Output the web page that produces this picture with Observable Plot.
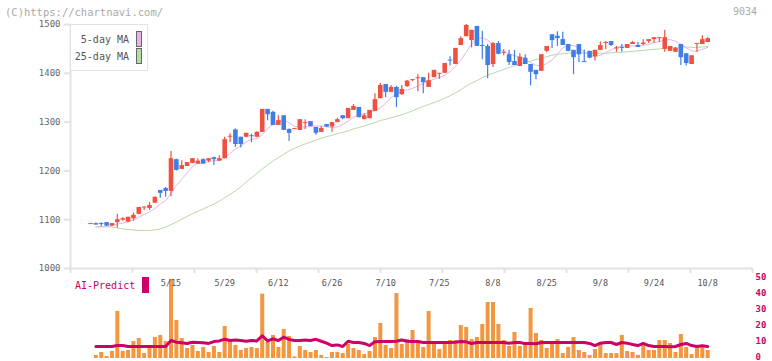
<!DOCTYPE html>
<html><head><meta charset="utf-8">
<script src="https://cdn.jsdelivr.net/npm/d3@7"></script>
<script src="https://cdn.jsdelivr.net/npm/@observablehq/plot@0.6"></script>
<style>
body{margin:0;background:#fff;}
#wrap{position:relative;width:772px;height:361px;font-family:"DejaVu Sans Mono",monospace;overflow:hidden;}
#wrap svg{position:absolute;left:0;top:0;}
.t{position:absolute;white-space:nowrap;line-height:1;}
</style></head><body><div id="wrap"></div>
<script>
// ---- data ----
const open = [
1090,1092,1092,1094,1087,1094,1099,1095,1102,1111,
1124,1123,1134,1160,1164,1158,1223,1203,1209,1215,
1214,1223,1220,1227,1220,1225,1269,1284,1269,1269,
1272,1269,1279,1326,1320,1293,1313,1285,1285,1283,
1297,1301,1289,1279,1295,1290,1299,1313,1307,1324,
1330,1305,1307,1322,1348,1377,1361,1371,1356,1373,
1385,1389,1391,1371,1391,1398,1400,1427,1418,1457,
1475,1467,1496,1457,1455,1418,1461,1441,1438,1424,
1414,1431,1418,1406,1404,1445,1479,1476,1469,1459,
1447,1459,1424,1445,1434,1447,1461,1465,1450,1453,
1451,1459,1457,1459,1465,1469,1471,1449,1445,1443,
1459,1440,1418,1459,1459,1463];
const high = [
1092,1093,1094,1094,1092,1111,1104,1105,1114,1125,
1126,1135,1146,1160,1166,1240,1224,1221,1217,1225,
1225,1225,1225,1228,1231,1269,1276,1286,1269,1277,
1275,1280,1326,1326,1322,1313,1313,1286,1287,1305,
1305,1301,1289,1291,1295,1299,1308,1313,1328,1336,
1330,1317,1324,1358,1379,1377,1375,1373,1375,1385,
1387,1397,1391,1400,1406,1400,1420,1434,1451,1475,
1500,1488,1496,1486,1459,1463,1465,1449,1447,1447,
1440,1438,1418,1406,1438,1455,1479,1485,1484,1459,
1447,1459,1448,1445,1447,1464,1465,1465,1455,1459,
1459,1465,1463,1469,1469,1473,1473,1488,1455,1453,
1459,1440,1436,1461,1477,1473];
const low = [
1090,1089,1086,1086,1086,1083,1097,1094,1097,1110,
1119,1119,1133,1144,1146,1147,1200,1203,1209,1215,
1214,1214,1217,1211,1220,1225,1258,1248,1247,1268,
1258,1268,1279,1303,1293,1293,1283,1260,1285,1283,
1285,1290,1273,1279,1289,1279,1299,1305,1307,1324,
1309,1305,1307,1322,1348,1350,1361,1330,1355,1371,
1383,1362,1358,1371,1391,1388,1400,1415,1418,1457,
1475,1452,1455,1428,1389,1412,1438,1436,1416,1416,
1414,1418,1374,1387,1404,1442,1451,1455,1457,1444,
1397,1422,1422,1430,1425,1447,1449,1455,1443,1443,
1451,1459,1453,1457,1461,1461,1463,1443,1445,1443,
1416,1415,1418,1443,1459,1463];
const close = [
1092,1089,1090,1087,1092,1100,1102,1105,1109,1125,
1126,1129,1146,1154,1158,1225,1201,1211,1217,1225,
1220,1214,1225,1223,1225,1264,1271,1254,1254,1277,
1270,1279,1326,1315,1293,1303,1283,1277,1287,1305,
1299,1291,1277,1287,1290,1299,1305,1307,1328,1332,
1309,1313,1324,1346,1375,1361,1371,1350,1367,1384,
1387,1391,1381,1385,1406,1400,1420,1425,1451,1471,
1498,1488,1455,1455,1416,1461,1439,1443,1422,1416,
1433,1418,1402,1397,1438,1455,1467,1471,1457,1445,
1432,1438,1422,1431,1447,1457,1463,1457,1452,1451,
1459,1463,1453,1462,1469,1473,1473,1473,1455,1451,
1432,1420,1436,1461,1469,1471];
// moving averages, days 1..115
const ma5 = [
1085,1085,1086,1088,1091,1093,1096,1099,1105,1111,
1116,1123,1132,1139,1153,1170,1183,1196,1209,1215,
1216,1219,1221,1221,1226,1236,1245,1251,1259,1265,
1266,1274,1287,1295,1300,1304,1299,1291,1290,1290,
1291,1292,1292,1290,1289,1290,1295,1302,1310,1315,
1317,1320,1323,1329,1339,1350,1358,1363,1366,1369,
1374,1379,1384,1388,1391,1396,1403,1414,1427,1443,
1460,1470,1473,1468,1459,1450,1444,1440,1436,1433,
1429,1422,1416,1415,1420,1427,1439,1452,1458,1457,
1452,1444,1436,1434,1437,1442,1448,1453,1456,1456,
1456,1456,1457,1459,1463,1465,1468,1469,1466,1460,
1452,1446,1445,1449,1453];
const ma25 = [
1086,1086,1086,1085,1083,1081,1080,1079,1078,1078,
1078,1079,1081,1085,1090,1095,1101,1107,1112,1117,
1122,1127,1132,1138,1145,1152,1159,1167,1177,1186,
1195,1204,1212,1220,1227,1234,1241,1246,1251,1255,
1259,1263,1267,1270,1273,1276,1279,1282,1286,1289,
1292,1296,1299,1303,1306,1309,1312,1315,1319,1323,
1328,1332,1336,1340,1344,1349,1354,1360,1366,1374,
1380,1385,1391,1396,1400,1404,1408,1412,1416,1419,
1422,1425,1428,1431,1434,1437,1439,1440,1441,1442,
1442,1442,1441,1441,1441,1441,1442,1443,1443,1444,
1445,1446,1447,1448,1449,1450,1451,1452,1453,1454,
1454,1453,1453,1454,1455];
// lower panel, days 1..115
const volume = [
1.9,3.75,1.25,4.4,29.4,4.4,5,10.6,12.5,3.1,
6.9,13.1,14.4,10.6,49.4,23.75,12.5,6.25,8.1,4.4,
6.9,3.75,7.5,3.75,20,10.6,8.1,5,6.25,6.9,
6.25,40.2,10,14.4,6.9,18.1,13.75,1,7.5,5,
3.75,5,1.9,0.6,3.75,3.75,3.1,8.75,6.25,5,
2.5,4.4,13.1,21.9,8.1,6.25,40.6,8.75,11.9,17.5,
11.25,6.9,29.4,10,5.6,10.6,11.25,11.25,20.6,19.4,
11.9,13.1,21.25,35,35,21.25,11.25,7.5,16.25,7.5,
10,31.25,15.6,11.25,6.25,9.4,11.9,3.1,6.9,13.1,
5,3.75,1.9,5.6,10,3.1,3.1,3.1,14.4,4.4,
3.75,1.9,8.75,5,5,11.25,11.25,9.4,3.75,15,
6.9,2.5,6.9,7.5,5];
const aiPredict = [
7.5,7.5,7.5,7.5,8.1,8.1,7.5,7.5,7.5,7.5,
7.5,7.5,7.5,7.5,11.25,10.2,9.8,9.4,10.2,10,
9.8,9.4,10.6,11,12,11.25,11.6,11.25,10.8,11.25,
11,14.2,11,12.3,11.25,13.3,11.9,11.25,11.25,11.6,
11.25,12,10.8,9.6,8.1,8.5,7.5,10.8,10,10,
9.4,8.1,10.4,10.6,10.6,10.6,10.8,11.6,10.8,10.6,
10.6,10,10,10,10,10,10,10.2,10.6,10.4,
9.4,10,10,10,10,10,10,9.6,10,10,
9.3,9.3,9.2,10,10,10,10,10,10,10,
10,10,9.4,8.1,9.6,10,10,8.75,10,9.6,
8.75,8.1,9.4,8.1,7.5,7.5,7.5,7.3,7.5,8.75,
9.4,8.1,7.5,7.9,7.5];
const dateLabels = ["5/15","5/29","6/12","6/26","7/10","7/25","8/8","8/25","9/8","9/24","10/8"];
const dateLabelDays = [15,25,35,45,55,65,75,85,95,105,115];
const priceTicks = [1000,1100,1200,1300,1400,1500];
const volumeTicks = [0,10,20,30,40,50];

// ---- build ----
const RED = "#ef5140", BLUE = "#3f7ee8", PINK = "#e6b4ea", GREEN = "#b6dba6", MAG = "#cc0066", ORANGE = "#f2963f";
const xDomain = [-3.727, 123.35];
const xGrid = d3.range(12).map(k => xDomain[0] + k * (xDomain[1] - xDomain[0]) / 11);
const days = close.map((c, i) => ({i, o: open[i], h: high[i], l: low[i], c}));
const ups = days.filter(d => d.c >= d.o), downs = days.filter(d => d.c < d.o);
const wrap = document.getElementById("wrap");

const pricePlot = Plot.plot({
  width: 772, height: 361,
  marginLeft: 70, marginRight: 20, marginTop: 24, marginBottom: 93,
  x: {domain: xDomain},
  y: {domain: [1000, 1500]},
  style: {background: "transparent", fontFamily: "DejaVu Sans Mono, monospace", color: "#666"},
  marks: [
    Plot.ruleY([1000], {stroke: "#e2e2e2", strokeWidth: 2}),
    Plot.ruleX([xDomain[0]], {y1: 1000, y2: 1500, stroke: "#e2e2e2", strokeWidth: 2}),
    Plot.axisY({ticks: priceTicks, tickFormat: d => String(d), tickSize: 6, tickPadding: 4, stroke: "#e2e2e2", strokeWidth: 2, fill: "#666", fontSize: 9, label: null}),
    Plot.axisX({ticks: xGrid, tickFormat: () => "", tickSize: 5, stroke: "#e2e2e2", strokeWidth: 2, label: null}),
    Plot.axisX({ticks: dateLabelDays, tickFormat: (d, i) => dateLabels[i], tickSize: 0, tickPadding: 11, fill: "#555", fontSize: 8.5, label: null}),
    Plot.lineY(ma25, {x: (d, i) => i + 1, y: d => d, stroke: GREEN, strokeWidth: 1}),
    Plot.lineY(ma5, {x: (d, i) => i + 1, y: d => d, stroke: PINK, strokeWidth: 1}),
    Plot.ruleX(ups, {x: "i", y1: "l", y2: "h", stroke: RED, strokeWidth: 1.2}),
    Plot.ruleX(downs, {x: "i", y1: "l", y2: "h", stroke: BLUE, strokeWidth: 1.2}),
    Plot.ruleX(ups, {x: "i", y1: "o", y2: "c", stroke: RED, strokeWidth: 4.6}),
    Plot.ruleX(downs, {x: "i", y1: "o", y2: "c", stroke: BLUE, strokeWidth: 4.6})
  ]
});

const volumePlot = Plot.plot({
  width: 772, height: 361,
  marginLeft: 70, marginRight: 20, marginTop: 278, marginBottom: 3,
  x: {domain: xDomain, axis: null},
  y: {domain: [0, 50]},
  style: {background: "transparent", fontFamily: "DejaVu Sans Mono, monospace"},
  marks: [
    Plot.axisY({anchor: "right", ticks: volumeTicks, tickSize: 0, tickPadding: 3, dy: -1.5, fill: MAG, fontSize: 9, fontWeight: "bold", label: null}),
    Plot.ruleX(volume, {x: (d, i) => i + 1, y1: 0, y2: d => d, stroke: ORANGE, strokeWidth: 4}),
    Plot.lineY(aiPredict, {x: (d, i) => i + 1, y: d => d, stroke: MAG, strokeWidth: 3, strokeLinejoin: "round"})
  ]
});

wrap.append(volumePlot, pricePlot);

function label(text, css) {
  const d = document.createElement("div");
  d.className = "t";
  d.textContent = text;
  Object.assign(d.style, css);
  wrap.append(d);
  return d;
}
label("(C)https://chartnavi.com/", {left: "5px", top: "7px", fontSize: "10.5px", color: "#aaa"});
label("9034", {left: "733px", top: "7px", fontSize: "10px", color: "#aaa"});
label("AI-Predict", {left: "75px", top: "281px", fontSize: "10px", color: MAG});
label("", {left: "142px", top: "277px", width: "7px", height: "16px", background: MAG});

// legend box
label("", {left: "70px", top: "24px", width: "76px", height: "45px", border: "1px solid #e2e2e2", background: "#fff"});
label("5-day MA", {right: (772 - 129) + "px", top: "35px", fontSize: "10px", color: "#555"});
label("25-day MA", {right: (772 - 129) + "px", top: "52px", fontSize: "10px", color: "#555"});
label("", {left: "136px", top: "31px", width: "4px", height: "14px", border: "1px solid #666", background: PINK});
label("", {left: "136px", top: "48px", width: "4px", height: "14px", border: "1px solid #666", background: GREEN});
</script>
</body></html>
